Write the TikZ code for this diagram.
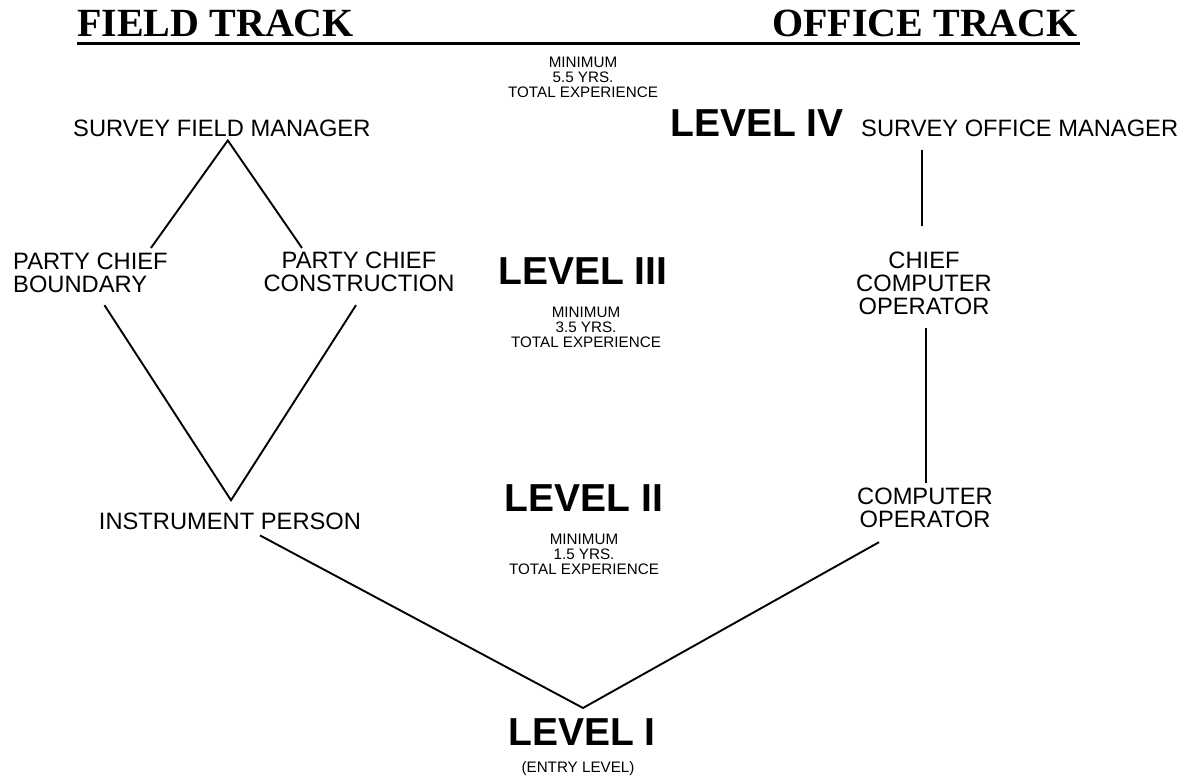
\documentclass[tikz,border=0pt]{standalone}
\usepackage{fontspec}
\setmainfont{Liberation Sans}
\newfontfamily\headfont{Liberation Serif}
\usepackage{tikz}
\usetikzlibrary{calc}

\tikzset{
  head/.style={inner sep=0pt, font=\headfont\bfseries\fontsize{40}{41}\selectfont},
  lbl/.style={inner sep=0pt, font=\fontsize{23.7}{23}\selectfont},
  lvl/.style={inner sep=0pt, font=\bfseries\fontsize{39}{40}\selectfont},
  mini/.style={inner sep=0pt, align=center, font=\fontsize{15.2}{15}\selectfont},
  link/.style={line width=1.9pt}
}

\begin{document}
\begin{tikzpicture}[x=1pt,y=-1pt]
\useasboundingbox (0,0) rectangle (1188,778);
% Track headings
\node[head, anchor=base west] (field) at (77,37) {FIELD TRACK};
\node[head, anchor=base east] (office) at (1078,37) {OFFICE TRACK};
\draw[line width=3.5pt] ($(field.base west)+(0,6.5)$) -- ($(office.base east)+(2,6.5)$);
% Levels and experience
\node[mini, anchor=north] (min4) at (583,57) {MINIMUM\\5.5 YRS.\\TOTAL EXPERIENCE};
\node[lvl, anchor=base west] (lev4) at (670,137) {LEVEL IV};
\node[lvl, anchor=base west] (lev3) at (498,284) {LEVEL III};
\node[mini, anchor=north] (min3) at (586,307) {MINIMUM\\3.5 YRS.\\TOTAL EXPERIENCE};
\node[lvl, anchor=base] (lev2) at (584,511) {LEVEL II};
\node[mini, anchor=north] (min2) at (584,534) {MINIMUM\\1.5 YRS.\\TOTAL EXPERIENCE};
\node[lvl, anchor=base] (lev1) at (582,745) {LEVEL I};
\node[mini, anchor=base] (entry) at (578,772) {(ENTRY LEVEL)};
% Field track
\node[lbl, anchor=base west] (sfm) at (73,137) {SURVEY FIELD MANAGER};
\node[lbl, anchor=north west, align=left] (pcb) at (13,253) {PARTY CHIEF\\BOUNDARY};
\node[lbl, anchor=north, align=center] (pcc) at (359,252) {PARTY CHIEF\\CONSTRUCTION};
\node[lbl, anchor=base] (ip) at (230,529) {INSTRUMENT PERSON};
% Office track
\node[lbl, anchor=base west] (som) at (861,137) {SURVEY OFFICE MANAGER};
\node[lbl, anchor=north, align=center] (cco) at (924,252) {CHIEF\\COMPUTER\\OPERATOR};
\node[lbl, anchor=north, align=center] (co) at (925,488) {COMPUTER\\OPERATOR};
% Diamond
\draw[link] ($(pcb.north east)+(-17,-5)$) -- ($(sfm.south)+(6,3)$) -- ($(pcc.north)+(-57,-4)$);
\draw[link] ($(pcb.south)+(14,12)$) -- ($(ip.north)+(1,-12)$) -- ($(pcc.south)+(-3,13)$);
% Entry
\draw[link] ($(ip.south)+(30,6)$) -- ($(lev1.north)+(1,-10)$) -- ($(co.south)+(-46,14)$);
\draw[link] ($(cco.north |- som.south)+(-2,13)$) -- ($(cco.north)+(-2,-26)$);
\draw[link] ($(cco.south)+(2,13)$) -- ($(co.north)+(1,-5)$);
\end{tikzpicture}
\end{document}
